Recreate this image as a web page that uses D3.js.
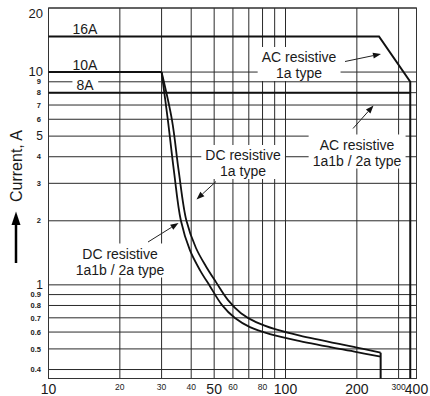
<!DOCTYPE html>
<html>
<head>
<meta charset="utf-8">
<script src="https://cdn.jsdelivr.net/npm/d3@7"></script>
<style>
  html, body { margin: 0; padding: 0; background: #fff; }
  svg { display: block; }
  text { font-family: "Liberation Sans", Arial, sans-serif; fill: #1a1a1a; }
</style>
</head>
<body>
<div id="chart"></div>
<script>
// Axis ticks
const xTicks = [10, 20, 30, 40, 50, 60, 70, 80, 90, 100, 200, 300, 400];
const xLabelsBig = [10, 50, 100, 200, 400];
const xLabelsSmall = [20, 30, 40, 60, 80, 300];
const yTicks = [0.4, 0.5, 0.6, 0.7, 0.8, 0.9, 1, 2, 3, 4, 5, 6, 7, 8, 9, 10, 20];
const yLabelsBig = [20, 10];
const yLabelsMid = [5, 1];
const yLabelsSmall = [0.4, 0.5, 0.6, 0.7, 0.8, 0.9, 2, 3, 4, 6, 7, 8, 9];

// AC resistive limits (voltage V, current A)
const ac1aVolt = [10, 248, 336, 336];
const ac1aAmp = [14.7, 14.7, 9, 0.363];
const ac2aVolt = [10, 336];
const ac2aAmp = [8, 8];

// DC resistive limits
const dcFlatVolt = [10, 30];
const dcFlatAmp = [10, 10];
const dc1aVolt = [30, 33.2, 35.4, 38.2, 41.9, 46.2, 50.9, 57.2, 64.9, 75.1, 90.3, 115, 200, 252];
const dc1aAmp = [10, 5.93, 3.45, 2.0, 1.49, 1.22, 1.03, 0.848, 0.736, 0.668, 0.619, 0.577, 0.507, 0.48];
const dc2aVolt = [30, 31.9, 33.8, 36.2, 39.5, 43.6, 48.0, 54.0, 61.2, 70.8, 86.0, 115, 200, 252];
const dc2aAmp = [10, 5.93, 3.45, 2.0, 1.455, 1.17, 0.986, 0.803, 0.698, 0.633, 0.587, 0.544, 0.483, 0.46];
const dcCutVolt = [252, 252];
const dcCutAmp = [0.48, 0.363];

const seriesLabels = ['16A', '10A', '8A'];
const labelAmp = [14.7, 10, 8];

const W = 430, H = 396;
const L = 48.5, R = 416.5, T = 8, B = 378.5;

const svg = d3.select('#chart').append('svg')
    .attr('width', W).attr('height', H)
    .attr('viewBox', `0 0 ${W} ${H}`);

const x = d3.scaleLog().domain([10, 357]).range([L, R]).clamp(true);
const y = d3.scaleLog().domain([0.363, 20]).range([B, T]).clamp(true);

// Grid
const grid = svg.append('g').attr('stroke', '#2a2a2a').attr('stroke-width', 1);
grid.selectAll('.vg').data(xTicks).join('line')
    .attr('x1', d => x(d)).attr('x2', d => x(d))
    .attr('y1', T).attr('y2', B);
grid.selectAll('.hg').data(yTicks).join('line')
    .attr('x1', L).attr('x2', R)
    .attr('y1', d => y(d)).attr('y2', d => y(d));

svg.append('rect')
    .attr('x', L).attr('y', T).attr('width', R - L).attr('height', B - T)
    .attr('fill', 'none').attr('stroke', '#333').attr('stroke-width', 1);

// Annotation blocks with white backgrounds
const annotations = [
    { lines: ['AC resistive', '1a type'], cx: 299, y0: 62, arrow: [[345, 61.5], [381, 54]] },
    { lines: ['AC resistive', '1a1b / 2a type'], cx: 357, y0: 149.5, arrow: [[353, 128.5], [373.5, 105.5]] },
    { lines: ['DC resistive', '1a type'], cx: 243, y0: 160, arrow: [[216, 181.5], [196.5, 199.5]] },
    { lines: ['DC resistive', '1a1b / 2a type'], cx: 120, y0: 258.5, arrow: [[148, 242], [178.5, 223]] }
];

const annG = svg.append('g');
annotations.forEach(a => {
    const g = annG.append('g');
    const bg = g.append('rect').attr('fill', '#fff');
    const t = g.append('text')
        .attr('text-anchor', 'middle')
        .attr('font-size', '14px')
        .attr('fill', '#333');
    a.lines.forEach((s, i) => {
        t.append('tspan').attr('x', a.cx).attr('y', a.y0 + i * 16).text(s);
    });
    const bb = t.node().getBBox();
    bg.attr('x', bb.x - 4).attr('y', bb.y - 2)
      .attr('width', bb.width + 8).attr('height', bb.height + 2);
});

// Current labels on flat lines
const flatG = svg.append('g');
seriesLabels.forEach((s, i) => {
    const g = flatG.append('g');
    const bg = g.append('rect').attr('fill', '#fff');
    const t = g.append('text')
        .attr('x', 85).attr('y', y(labelAmp[i]) - (i === 2 ? 3 : 2.5))
        .attr('text-anchor', 'middle')
        .attr('font-size', '14px')
        .attr('fill', '#222')
        .text(s);
    const bb = t.node().getBBox();
    bg.attr('x', bb.x - 4).attr('y', bb.y + 1)
      .attr('width', bb.width + 8).attr('height', bb.height - 3);
});

// Limit curves
const line = d3.line().x(d => x(d[0])).y(d => y(d[1]));
const smooth = d3.line().x(d => x(d[0])).y(d => y(d[1])).curve(d3.curveCatmullRom.alpha(0.5));

const lines = svg.append('g').attr('fill', 'none').attr('stroke', '#111')
    .attr('stroke-linejoin', 'miter');

lines.append('path').datum(d3.zip(ac1aVolt, ac1aAmp)).attr('d', line).attr('stroke-width', 2);
lines.append('path').datum(d3.zip(ac2aVolt, ac2aAmp)).attr('d', line).attr('stroke-width', 2);
lines.append('path').datum(d3.zip(dcFlatVolt, dcFlatAmp)).attr('d', line).attr('stroke-width', 2);
lines.append('path').datum(d3.zip(dc1aVolt, dc1aAmp)).attr('d', smooth).attr('stroke-width', 1.8);
lines.append('path').datum(d3.zip(dc2aVolt, dc2aAmp)).attr('d', smooth).attr('stroke-width', 1.8);
lines.append('path').datum(d3.zip(dcCutVolt, dcCutAmp)).attr('d', line).attr('stroke-width', 2);

// Annotation arrows
const arrG = svg.append('g');
annotations.forEach(a => {
    const [p0, p1] = a.arrow;
    const ang = Math.atan2(p1[1] - p0[1], p1[0] - p0[0]);
    const hl = 8, hw = 3;
    const bx = p1[0] - hl * Math.cos(ang), by = p1[1] - hl * Math.sin(ang);
    arrG.append('line')
        .attr('x1', p0[0]).attr('y1', p0[1]).attr('x2', bx).attr('y2', by)
        .attr('stroke', '#222').attr('stroke-width', 1);
    arrG.append('path')
        .attr('d', `M${p1[0]},${p1[1]}L${bx - hw * Math.sin(ang)},${by + hw * Math.cos(ang)}L${bx + hw * Math.sin(ang)},${by - hw * Math.cos(ang)}Z`)
        .attr('fill', '#111');
});

// X tick labels
const xl = svg.append('g').attr('text-anchor', 'middle');
xl.selectAll('.xb').data(xLabelsBig).join('text')
    .attr('x', d => x(d)).attr('y', 394)
    .attr('font-size', '14px').text(d => d);
xl.selectAll('.xs').data(xLabelsSmall).join('text')
    .attr('x', d => x(d)).attr('y', 389.5)
    .attr('font-size', '8.5px').text(d => d);

// Y tick labels
const yl = svg.append('g').attr('text-anchor', 'end');
yl.selectAll('.yb').data(yLabelsBig).join('text')
    .attr('x', 43).attr('y', d => Math.max(y(d), 14) + 4)
    .attr('font-size', '13px').text(d => d);
yl.selectAll('.ym').data(yLabelsMid).join('text')
    .attr('x', 43).attr('y', d => y(d) + 4)
    .attr('font-size', '12px').text(d => d);
yl.selectAll('.ys').data(yLabelsSmall).join('text')
    .attr('x', 41).attr('y', d => y(d) + 2.7)
    .attr('font-size', '7.5px').attr('font-weight', 'bold')
    .attr('fill', '#333').text(d => d);

// Y axis title with arrow
svg.append('text')
    .attr('transform', 'translate(21.5,166) rotate(-90)')
    .attr('text-anchor', 'middle')
    .attr('font-size', '16px')
    .text('Current, A');
svg.append('line')
    .attr('x1', 16).attr('x2', 16).attr('y1', 263).attr('y2', 222)
    .attr('stroke', '#000').attr('stroke-width', 2.5);
svg.append('path')
    .attr('d', 'M16,211.5L11.5,225L20.5,225Z')
    .attr('fill', '#000');
</script>
</body>
</html>
